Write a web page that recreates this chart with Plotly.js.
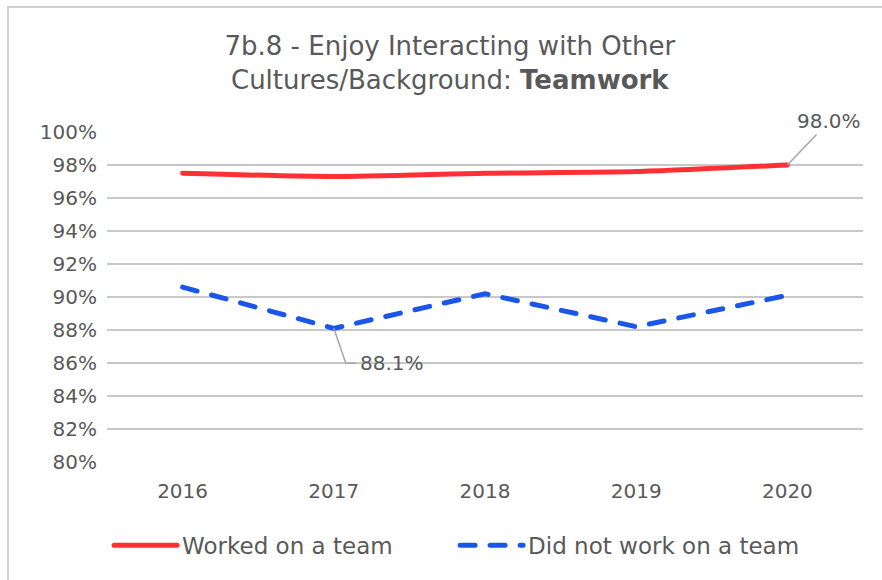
<!DOCTYPE html>
<html>
<head>
<meta charset="utf-8">
<script src="https://cdn.plot.ly/plotly-3.0.1.min.js"></script>
<style>
  html, body { margin:0; padding:0; background:#fff; }
  #chart { width:882px; height:580px; position:absolute; left:0; top:0; }
  #frame { position:absolute; left:7px; top:6px; width:875px; height:574px;
           border-left:2px solid #d0d0d0; border-top:2px solid #d0d0d0; pointer-events:none; }
  #chart .js-line { stroke-linecap: round; }
  #chart .legendlines path { stroke-linecap: round; }
</style>
</head>
<body>
<div id="chart"></div>
<div id="frame"></div>
<script>
const years = ['2016', '2017', '2018', '2019', '2020'];
const workedOnTeam = [97.5, 97.3, 97.5, 97.6, 98.0];
const didNotWork = [90.6, 88.1, 90.2, 88.2, 90.1];
const yTickVals = [80, 82, 84, 86, 88, 90, 92, 94, 96, 98, 100];
const yTickText = ['80%', '82%', '84%', '86%', '88%', '90%', '92%', '94%', '96%', '98%', '100%'];

const FONT = 'DejaVu Sans, Arial, sans-serif';
const GRAY = '#595959';

const i2020 = years.indexOf('2020');
const i2017 = years.indexOf('2017');

const traces = [
  {
    x: years, y: workedOnTeam, type: 'scatter', mode: 'lines',
    name: 'Worked on a team',
    line: { color: '#ff2f36', width: 5, shape: 'spline', smoothing: 0.6 },
    hoverinfo: 'skip'
  },
  {
    x: years, y: didNotWork, type: 'scatter', mode: 'lines',
    name: 'Did not work on a team',
    line: { color: '#1a56e8', width: 5, dash: '15px,15px' },
    hoverinfo: 'skip'
  }
];

const layout = {
  width: 882, height: 580,
  margin: { l: 107, r: 19, t: 132, b: 118 },
  paper_bgcolor: '#ffffff', plot_bgcolor: '#ffffff',
  font: { family: FONT, color: GRAY },
  title: {
    text: '7b.8 - Enjoy Interacting with Other<br>Cultures/Background: <b>Teamwork</b>',
    font: { size: 26, color: GRAY, family: FONT },
    x: 0.51, xanchor: 'center', xref: 'container',
    y: 0.905, yanchor: 'top', yref: 'container'
  },
  xaxis: {
    type: 'category', showgrid: false, zeroline: false, showline: false,
    ticks: '', tickfont: { size: 20, color: GRAY }, range: [-0.5, 4.5],
    ticklabelstandoff: 15, automargin: false
  },
  yaxis: {
    range: [80, 100], tickvals: yTickVals, ticktext: yTickText,
    showgrid: true, gridcolor: '#c8c8c8', gridwidth: 2,
    zeroline: false, showline: false, ticks: '',
    tickfont: { size: 20, color: GRAY }, ticklabelstandoff: 9, automargin: false
  },
  showlegend: true,
  legend: {
    orientation: 'h', x: 0.516, xanchor: 'center', xref: 'container',
    y: 0.06, yanchor: 'middle', yref: 'container',
    font: { size: 23, color: GRAY, family: FONT },
    entrywidth: 268, entrywidthmode: 'pixels',
    itemwidth: 63
  },
  annotations: [
    {
      x: i2020, y: workedOnTeam[i2020], xref: 'x', yref: 'y',
      text: workedOnTeam[i2020].toFixed(1) + '%',
      showarrow: true, arrowhead: 0, arrowwidth: 1.5, arrowcolor: '#a6a6a6',
      ax: 42, ay: -44, standoff: 0,
      font: { size: 20, color: GRAY, family: FONT }
    },
    {
      x: i2017, y: didNotWork[i2017], xref: 'x', yref: 'y',
      text: didNotWork[i2017].toFixed(1) + '%',
      showarrow: false, xanchor: 'left', yanchor: 'middle',
      xshift: 24, yshift: -35,
      font: { size: 20, color: GRAY, family: FONT }
    }
  ],
  shapes: [
    {
      type: 'path', xref: 'x', yref: 'y',
      xsizemode: 'pixel', ysizemode: 'pixel',
      xanchor: i2017, yanchor: didNotWork[i2017],
      path: 'M 0 0 L 12 -35 L 22 -35',
      line: { color: '#a6a6a6', width: 1.5 }
    }
  ]
};

Plotly.newPlot('chart', traces, layout, { displayModeBar: false, staticPlot: true });
</script>
</body>
</html>
